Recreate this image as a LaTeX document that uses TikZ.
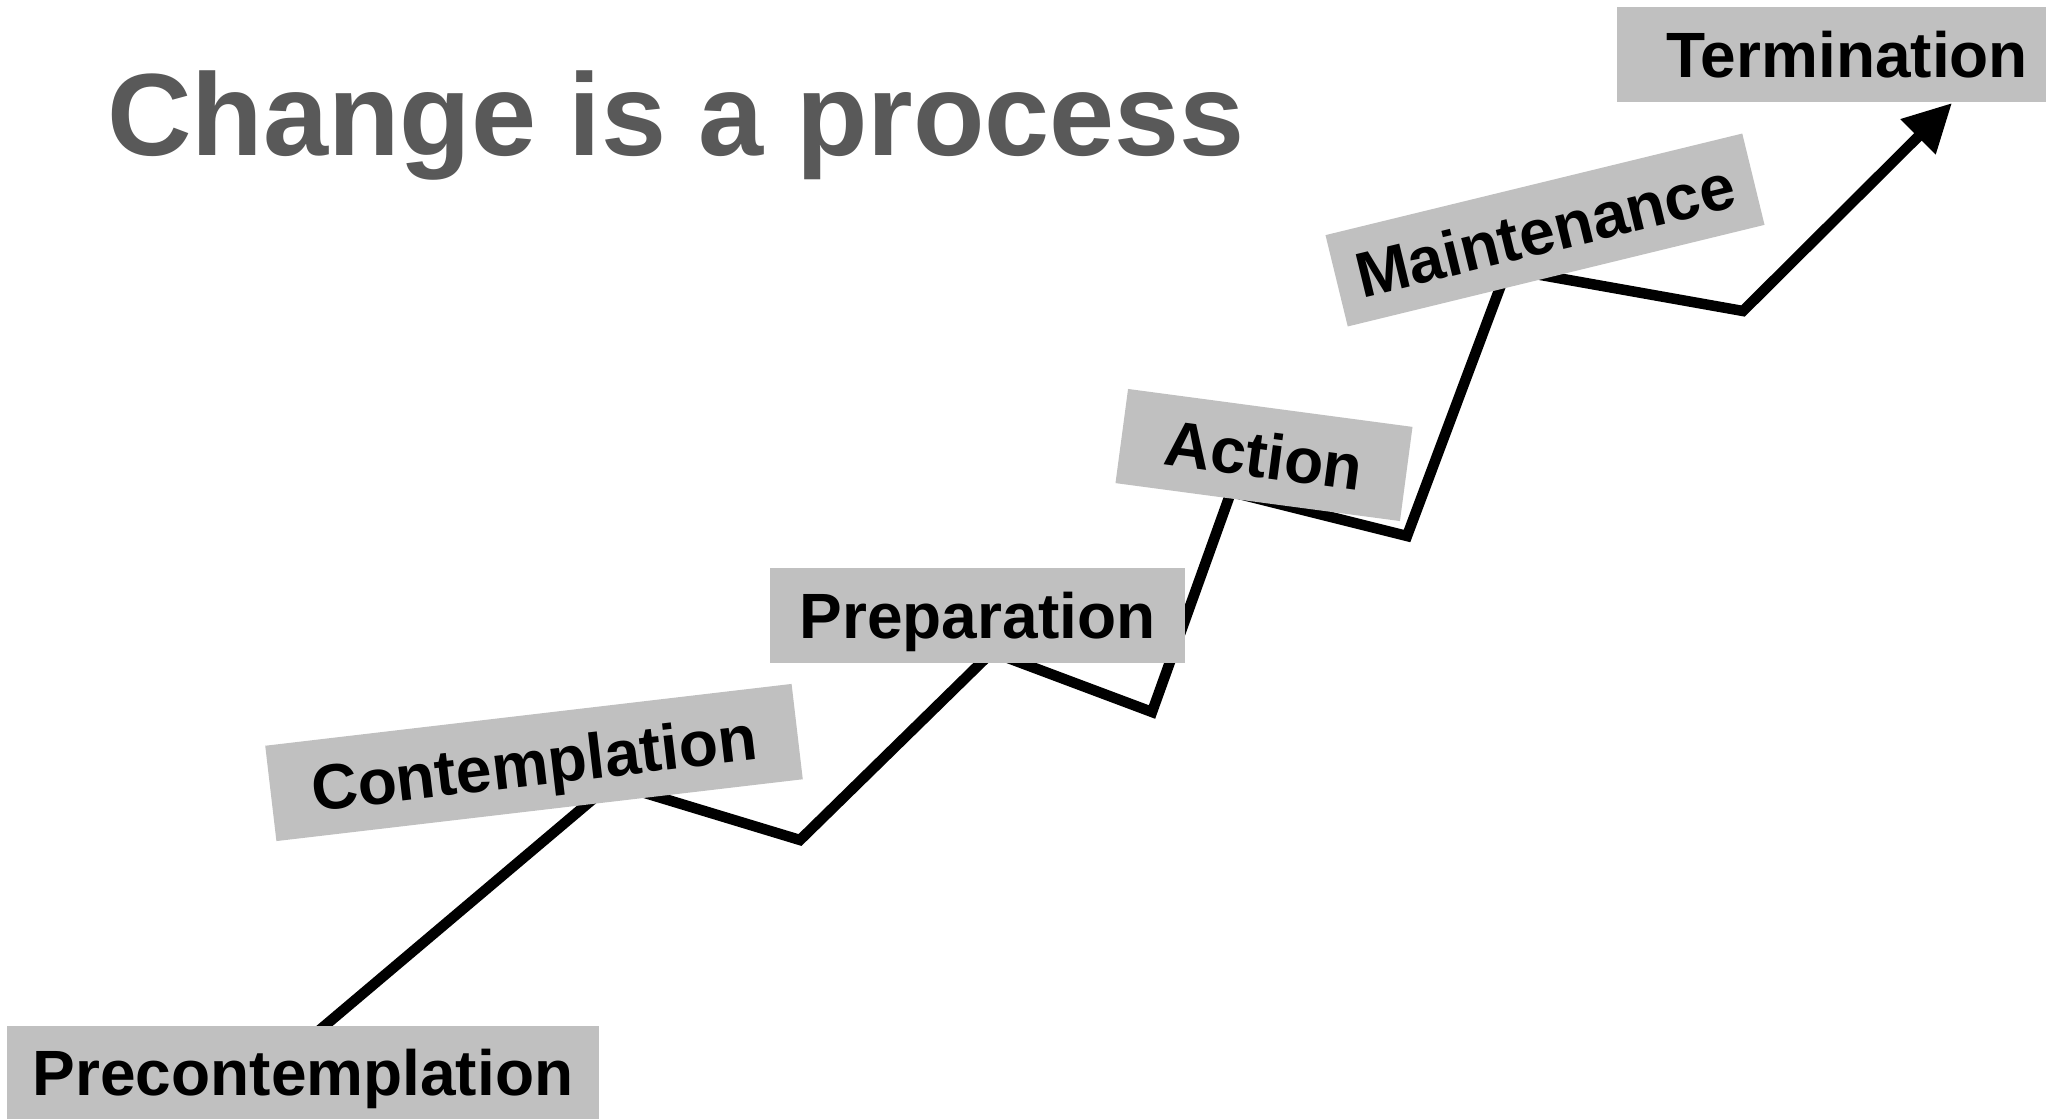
\documentclass[tikz,border=0pt]{standalone}
\usepackage{fontspec}
\setmainfont{Liberation Sans}
\usetikzlibrary{arrows.meta}
\definecolor{stagegray}{RGB}{192,192,192}
\definecolor{titlegray}{RGB}{89,89,89}
\begin{document}
\begin{tikzpicture}[x=1pt,y=-1pt,
  stage/.style={fill=stagegray, inner sep=0pt, text height=46pt, text depth=0pt,
    font=\fontsize{64}{70}\selectfont\bfseries, minimum height=95pt},
  stairline/.style={line width=10.5pt, line join=miter, draw=black},
  headline/.style={anchor=base west, inner sep=0pt, text=titlegray,
    font=\fontsize{117}{130}\selectfont\bfseries}]
\useasboundingbox (0,0) rectangle (2046,1119);

% corners of the rising zig-zag
\coordinate (v0) at (296,1050);
\coordinate (v1) at (612,783);
\coordinate (v2) at (800,840);
\coordinate (v3) at (992,652);
\coordinate (v4) at (1152,712);
\coordinate (v5) at (1231,492);
\coordinate (v6) at (1407,536);
\coordinate (v7) at (1507,269);
\coordinate (v8) at (1743,311);
\coordinate (v9) at (1952,103);

\draw[stairline, -{Triangle[length=48pt,width=47pt]}]
  (v0) -- (v1) -- (v2) -- (v3) -- (v4) -- (v5) -- (v6) -- (v7) -- (v8) -- (v9);

% stage labels laid over the line
\node[stage, minimum width=592pt, minimum height=93pt] (pre) at (303,1072.5) {Precontemplation};
\node[stage, minimum width=530pt, minimum height=96pt, rotate=6.7] (con) at (534,762.5) {Contemplation};
\node[stage, minimum width=415pt] (prep) at (977.5,615.5) {Preparation};
\node[stage, minimum width=287pt, rotate=-7.6] (act) at (1264,455) {Action};
\node[stage, minimum width=429pt, minimum height=94pt, rotate=13.7] (main) at (1545,230) {Maintenance};
\node[stage, text width=393pt, align=right, inner xsep=18pt] (term) at (1831.5,54.5) {Termination};

\node[headline] (title) at (107,155) {Change is a process};
\end{tikzpicture}
\end{document}
